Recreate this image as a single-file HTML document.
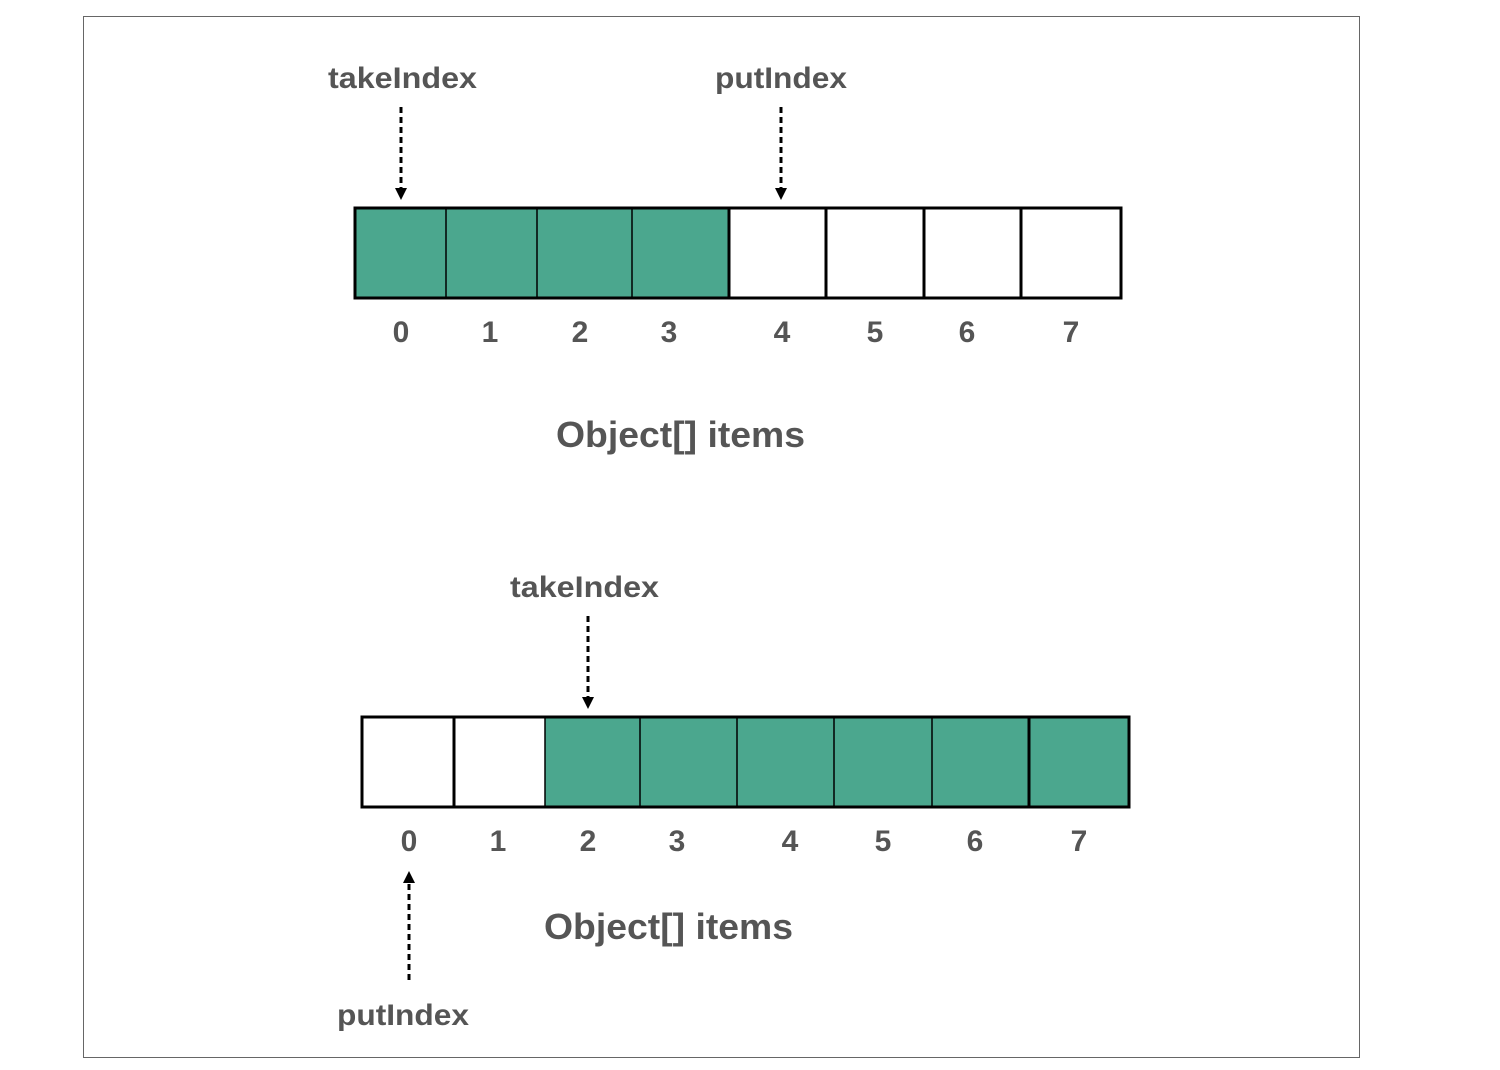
<!DOCTYPE html>
<html><head><style>
html,body{margin:0;padding:0;background:#fff;}
svg{display:block;}
text{font-family:"Liberation Sans",Arial,sans-serif;font-weight:bold;fill:#555;}
</style></head><body>
<svg width="1500" height="1070" viewBox="0 0 1500 1070">
<rect x="83.5" y="16.5" width="1276" height="1041" fill="#fff" stroke="#666" stroke-width="1"/>
<!-- top -->
<rect x="355" y="208" width="374" height="90" fill="#4ba78e"/>
<rect x="355" y="208" width="766" height="90" fill="none" stroke="#000" stroke-width="3"/>
<g stroke="#000" stroke-width="1.5"><line x1="446" y1="208" x2="446" y2="298"/><line x1="537" y1="208" x2="537" y2="298"/><line x1="632" y1="208" x2="632" y2="298"/></g>
<g stroke="#000" stroke-width="3"><line x1="729" y1="208" x2="729" y2="298"/><line x1="826" y1="208" x2="826" y2="298"/><line x1="924" y1="208" x2="924" y2="298"/><line x1="1021" y1="208" x2="1021" y2="298"/></g>
<g font-size="30" text-anchor="middle"><text x="401" y="342">0</text><text x="490" y="342">1</text><text x="580" y="342">2</text><text x="669" y="342">3</text><text x="782" y="342">4</text><text x="875" y="342">5</text><text x="967" y="342">6</text><text x="1071" y="342">7</text></g>
<text x="328" y="88" font-size="30" textLength="149" lengthAdjust="spacingAndGlyphs">takeIndex</text>
<text x="715" y="88" font-size="30" textLength="132" lengthAdjust="spacingAndGlyphs">putIndex</text>
<g stroke="#000" stroke-width="3" stroke-dasharray="6,4"><line x1="401" y1="107" x2="401" y2="190"/><line x1="781" y1="107" x2="781" y2="190"/></g>
<path d="M395,188 L407,188 L401,200 z"/><path d="M775,188 L787,188 L781,200 z"/>
<text x="556" y="447" font-size="36" textLength="249" lengthAdjust="spacingAndGlyphs">Object[] items</text>
<!-- bottom -->
<rect x="545" y="717" width="584" height="90" fill="#4ba78e"/>
<rect x="362" y="717" width="767" height="90" fill="none" stroke="#000" stroke-width="3"/>
<g stroke="#000" stroke-width="3"><line x1="454" y1="717" x2="454" y2="807"/><line x1="1029" y1="717" x2="1029" y2="807"/></g>
<g stroke="#000" stroke-width="1.5"><line x1="545" y1="717" x2="545" y2="807"/><line x1="640" y1="717" x2="640" y2="807"/><line x1="737" y1="717" x2="737" y2="807"/><line x1="834" y1="717" x2="834" y2="807"/><line x1="932" y1="717" x2="932" y2="807"/></g>
<g font-size="30" text-anchor="middle"><text x="409" y="851">0</text><text x="498" y="851">1</text><text x="588" y="851">2</text><text x="677" y="851">3</text><text x="790" y="851">4</text><text x="883" y="851">5</text><text x="975" y="851">6</text><text x="1079" y="851">7</text></g>
<text x="510" y="597" font-size="30" textLength="149" lengthAdjust="spacingAndGlyphs">takeIndex</text>
<g stroke="#000" stroke-width="3" stroke-dasharray="6,4"><line x1="588" y1="616" x2="588" y2="698"/><line x1="409" y1="884" x2="409" y2="982"/></g>
<path d="M582,697 L594,697 L588,709 z"/><path d="M403,883 L415,883 L409,871 z"/>
<text x="544" y="939" font-size="36" textLength="249" lengthAdjust="spacingAndGlyphs">Object[] items</text>
<text x="337" y="1025" font-size="30" textLength="132" lengthAdjust="spacingAndGlyphs">putIndex</text>
</svg>
</body></html>
